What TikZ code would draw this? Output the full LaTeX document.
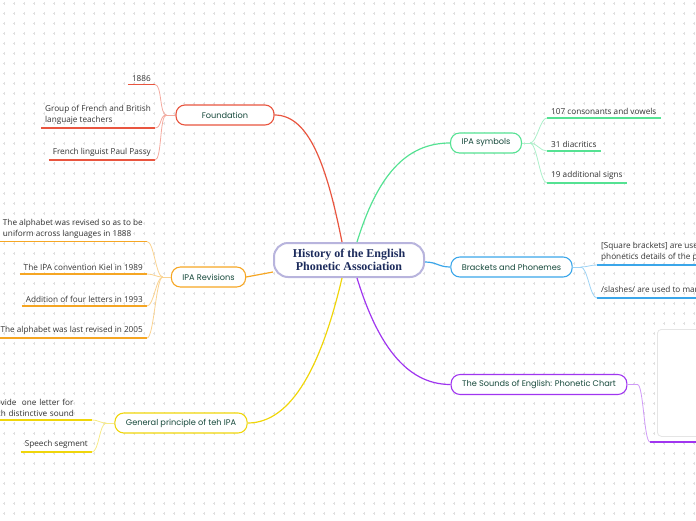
\documentclass[tikz,border=0pt]{standalone}
\usepackage{fontspec}
\setmainfont{Open Sans}
\newfontfamily\branchfont{Poppins}
\newfontfamily\titlefont{Liberation Serif}
\usetikzlibrary{calc}

\definecolor{redln}{HTML}{E9553F}
\definecolor{orangeln}{HTML}{F6A623}
\definecolor{yellowln}{HTML}{F0D60A}
\definecolor{greenln}{HTML}{55E293}
\definecolor{blueln}{HTML}{3AA6EA}
\definecolor{purpleln}{HTML}{A035F0}
\definecolor{rootln}{HTML}{B8B4DD}
\definecolor{roottext}{HTML}{1C2B5C}
\definecolor{branchtext}{HTML}{174A3C}
\definecolor{gridplus}{HTML}{E0E0E0}

\begin{document}
\begin{tikzpicture}[x=1pt, y=-1pt,
  branch/.style={draw, rounded corners=9pt, line width=1.1pt, fill=white,
    minimum height=20pt, inner xsep=11pt, text=branchtext,
    font=\branchfont\fontsize{8.2}{9}\selectfont},
  leaf/.style={inner xsep=4pt, inner ysep=3pt, align=left, text=black!80,
    font=\fontsize{8.2}{11}\selectfont},
  main/.style={line width=1.2pt},
  soft/.style={line width=0.8pt}]

  \useasboundingbox (0,0) rectangle (696,520);
  \clip (0,0) rectangle (696,520);

  % dotted background
  \draw[gridplus, line width=0.4pt]
    \foreach \i in {0,...,69} { \foreach \j in {0,...,51} {
      (2.7+10*\i, 3.5+10*\j) -- ++(2.6,0) (4+10*\i, 2.2+10*\j) -- ++(0,2.6) } };

  \node[draw=rootln, line width=2pt, rounded corners=14pt, fill=white,
    minimum width=150pt, minimum height=34pt, align=center, text=roottext,
    font=\titlefont\bfseries\fontsize{12}{12.5}\selectfont]
    (hist) at (349,260) {History of the English\\Phonetic Association};

  \node[branch, draw=redln, minimum width=98pt] (found) at (225,115) {Foundation};
  \node[branch, draw=orangeln] (revis) at (208.5,277) {IPA Revisions};
  \node[branch, draw=yellowln] (princ) at (181,423) {General principle of teh IPA};
  \node[branch, draw=greenln] (symb) at (486,143) {IPA symbols};
  \node[branch, draw=blueln] (brack) at (511.5,267) {Brackets and Phonemes};
  \node[branch, draw=purpleln] (sound) at (539,384.5) {The Sounds of English: Phonetic Chart};

  \draw[main, redln] ([xshift=-7pt]hist.north) .. controls +(-15,-75) and +(35,0) .. (found.east);
  \draw[main, greenln] ([xshift=8pt]hist.north) .. controls +(20,-65) and +(-45,0) .. (symb.west);
  \draw[main, orangeln] ([yshift=-12pt]hist.west) -- (revis.east);
  \draw[main, blueln] ([yshift=-2pt]hist.east) .. controls +(12,0) and +(-12,0) .. (brack.west);
  \draw[main, yellowln] ([xshift=-7pt]hist.south) .. controls +(-20,85) and +(45,0) .. (princ.east);
  \draw[main, purpleln] ([xshift=8pt]hist.south) .. controls +(20,65) and +(-45,0) .. (sound.west);

  % left leaves
  \node[leaf, anchor=south east] (f1) at (155,84.5) {1886};
  \node[leaf, anchor=south east] (f2) at (155,128) {Group of French and British\\languaje teachers};
  \node[leaf, anchor=south east] (f3) at (155,160) {French linguist Paul Passy};

  \node[leaf, anchor=south east] (r1) at (147,241.5) {The alphabet was revised so as to be\\uniform across languages in 1888};
  \node[leaf, anchor=south east] (r2) at (147,274) {The IPA convention Kiel in 1989};
  \node[leaf, anchor=south east] (r3) at (147,306) {Addition of four letters in 1993};
  \node[leaf, anchor=south east] (r4) at (147,338) {The alphabet was last revised in 2005};

  \node[leaf, anchor=south east, text width=100pt] (p1) at (92,420) {Provide\ \ one letter for\\each distinctive sound};
  \node[leaf, anchor=south east] (p2) at (92,452) {Speech segment};

  % right leaves
  \node[leaf, anchor=south west] (s1) at (547,118) {107 consonants and vowels};
  \node[leaf, anchor=south west] (s2) at (547,151) {31 diacritics};
  \node[leaf, anchor=south west] (s3) at (547,183) {19 additional signs};

  \node[leaf, anchor=south west] (b1) at (597,265) {[Square brackets] are used to show\\phonetics details of the pronunciation};
  \node[leaf, anchor=south west] (b2) at (597,298) {/slashes/ are used to mark phonemes};

  \node[draw=black!10, fill=white, rounded corners=4pt, line width=0.8pt,
    anchor=north west, minimum width=60pt, minimum height=107pt] (chart) at (657,329) {};
  \coordinate (chartbase) at (650,442);

  % underlines
  \foreach \n in {f1,f2,f3} \draw[main, redln] (\n.south west) -- (\n.south east);
  \foreach \n in {r1,r2,r3,r4} \draw[main, orangeln] (\n.south west) -- (\n.south east);
  \foreach \n in {p1,p2} \draw[main, yellowln] (\n.south west) -- (\n.south east);
  \foreach \n in {s1,s2,s3} \draw[main, greenln] (\n.south west) -- (\n.south east);
  \foreach \n in {b1,b2} \draw[main, blueln] (\n.south west) -- (\n.south east);
  \draw[main, purpleln] (chartbase) -- ++(60,0);

  % leaf connectors
  \coordinate (fj) at ([xshift=-9pt]found.west);
  \coordinate (rj) at ([xshift=-8pt]revis.west);
  \coordinate (pj) at ([xshift=-8pt]princ.west);
  \coordinate (sj) at ([xshift=8pt]symb.east);
  \coordinate (bj) at ([xshift=8pt]brack.east);
  \coordinate (cj) at ([xshift=10pt]sound.east);

  \draw[soft, redln!50] (found.west) -- (fj);
  \foreach \n in {f1,f2,f3} \draw[soft, redln!50] (fj) .. controls +(-7,0) and +(7,0) .. (\n.south east);
  \draw[soft, orangeln!50] (revis.west) -- (rj);
  \foreach \n in {r1,r2,r3,r4} \draw[soft, orangeln!50] (rj) .. controls +(-7,0) and +(7,0) .. (\n.south east);
  \draw[soft, yellowln!50] (princ.west) -- (pj);
  \foreach \n in {p1,p2} \draw[soft, yellowln!50] (pj) .. controls +(-7,0) and +(7,0) .. (\n.south east);
  \draw[soft, greenln!50] (symb.east) -- (sj);
  \foreach \n in {s1,s2,s3} \draw[soft, greenln!50] (sj) .. controls +(7,0) and +(-7,0) .. (\n.south west);
  \draw[soft, blueln!50] (brack.east) -- (bj);
  \foreach \n in {b1,b2} \draw[soft, blueln!50] (bj) .. controls +(7,0) and +(-7,0) .. (\n.south west);
  \draw[soft, purpleln!50] (sound.east) -- (cj) .. controls +(6,0) and +(-6,0) .. (chartbase);
\end{tikzpicture}
\end{document}
